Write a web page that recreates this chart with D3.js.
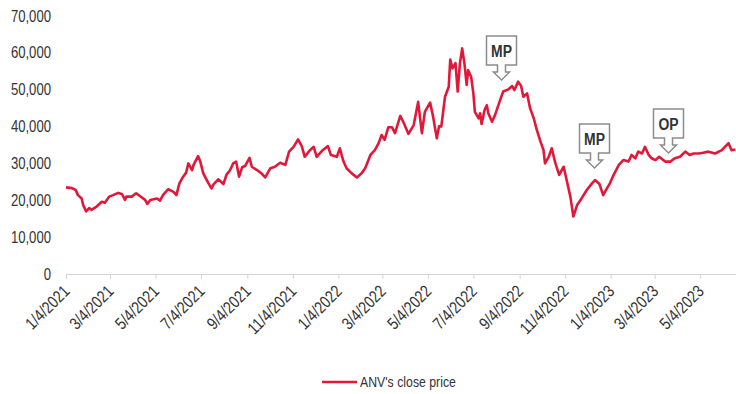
<!DOCTYPE html>
<html>
<head>
<meta charset="utf-8">
<script src="https://cdn.jsdelivr.net/npm/d3@7"></script>
<style>
    body { margin: 0; background: #fff; }
    svg text { font-family: "Liberation Sans", Arial, sans-serif; fill: #333; }
</style>
</head>
<body>
<svg width="736" height="394"></svg>
<script>

// close price
var dates = [
    "2021-01-04","2021-01-12","2021-01-17","2021-01-20","2021-01-25","2021-01-27","2021-01-31","2021-02-04","2021-02-07","2021-02-14",
    "2021-02-21","2021-02-25","2021-03-03","2021-03-08","2021-03-15","2021-03-20","2021-03-24","2021-03-26","2021-04-02","2021-04-08",
    "2021-04-13","2021-04-20","2021-04-23","2021-04-27","2021-05-06","2021-05-10","2021-05-14","2021-05-21","2021-05-28","2021-06-01",
    "2021-06-05","2021-06-10","2021-06-14","2021-06-17","2021-06-22","2021-06-24","2021-06-30","2021-07-03","2021-07-07","2021-07-14",
    "2021-07-18","2021-07-21","2021-07-27","2021-08-03","2021-08-07","2021-08-12","2021-08-16","2021-08-20","2021-08-24","2021-08-28",
    "2021-09-01","2021-09-07","2021-09-10","2021-09-17","2021-09-23","2021-09-28","2021-10-05","2021-10-11","2021-10-18","2021-10-25",
    "2021-10-30","2021-11-05","2021-11-11","2021-11-16","2021-11-20","2021-11-27","2021-12-02","2021-12-06","2021-12-14","2021-12-21",
    "2021-12-25","2022-01-02","2022-01-06","2022-01-11","2022-01-15","2022-01-22","2022-01-29","2022-02-04","2022-02-09","2022-02-16",
    "2022-02-22","2022-02-27","2022-03-03","2022-03-07","2022-03-12","2022-03-17","2022-03-21","2022-03-28","2022-04-01","2022-04-08",
    "2022-04-15","2022-04-21","2022-04-26","2022-04-30","2022-05-07","2022-05-11","2022-05-16","2022-05-19","2022-05-22","2022-05-27",
    "2022-06-01","2022-06-03","2022-06-06","2022-06-10","2022-06-13","2022-06-16","2022-06-19","2022-06-22","2022-06-25","2022-06-27",
    "2022-07-01","2022-07-04","2022-07-06","2022-07-11","2022-07-13","2022-07-15","2022-07-19","2022-07-22","2022-07-24","2022-07-29",
    "2022-08-02","2022-08-08","2022-08-13","2022-08-20","2022-08-25","2022-08-28","2022-09-02","2022-09-06","2022-09-09","2022-09-14",
    "2022-09-18","2022-09-23","2022-09-27","2022-10-02","2022-10-06","2022-10-08","2022-10-13","2022-10-17","2022-10-22","2022-10-27",
    "2022-11-02","2022-11-06","2022-11-11","2022-11-15","2022-11-20","2022-11-26","2022-12-03","2022-12-10","2022-12-14","2022-12-20",
    "2022-12-25","2022-12-30","2023-01-03","2023-01-08","2023-01-15","2023-01-21","2023-01-28","2023-02-01","2023-02-06","2023-02-10",
    "2023-02-15","2023-02-19","2023-02-24","2023-02-28","2023-03-05","2023-03-10","2023-03-18","2023-03-25","2023-03-31","2023-04-07",
    "2023-04-14","2023-04-20","2023-04-25","2023-05-02","2023-05-08","2023-05-15","2023-05-24","2023-06-02","2023-06-11","2023-06-15",
    "2023-06-20"
];

var closePrices = [
    23500, 23300, 22800, 21400, 20500, 18700, 17000, 17900, 17400, 18300,
    19600, 19350, 21000, 21400, 22000, 21700, 20100, 21000, 21000, 21900,
    21150, 20100, 19000, 20100, 20500, 19900, 21400, 23000, 22300, 21400,
    24600, 26400, 27500, 30000, 28200, 29600, 32000, 30500, 27300, 24600,
    23250, 24400, 25700, 24400, 26900, 28200, 30000, 30500, 26400, 28950,
    29300, 31500, 29100, 28200, 27300, 26200, 28700, 29100, 30200, 29600,
    33200, 34500, 36500, 34700, 31800, 33600, 34500, 31800, 33600, 34700,
    32300, 31800, 34100, 30500, 28700, 27300, 26200, 27300, 28700, 32300,
    33600, 35500, 37700, 36400, 39800, 39800, 38200, 42900, 41300, 38000,
    40400, 46700, 38200, 44000, 46500, 42700, 36800, 40100, 40000, 48100,
    50800, 58200, 55800, 57200, 49500, 57200, 61200, 57200, 51300, 55300,
    53500, 49000, 44000, 42200, 43600, 40700, 44500, 45800, 43600, 41300,
    43100, 46700, 49500, 50100, 51000, 49900, 52200, 51000, 48100, 49000,
    45000, 42200, 39100, 35900, 33600, 30000, 31800, 34100, 30000, 26900,
    29100, 25500, 21000, 15600, 18700, 20500, 22800, 24600, 25500, 24400,
    21400, 23250, 24600, 26900, 29600, 30900, 30500, 32300, 31400, 33200,
    32700, 34500, 32300, 31400, 30900, 31800, 30500, 30500, 31400, 31800,
    33200, 32300, 32700, 32700, 32900, 33200, 32700, 33600, 35500, 33600,
    33800
];

var tickDates = ["2021-01-04","2021-03-04","2021-05-04","2021-07-04","2021-09-04","2021-11-04",
    "2022-01-04","2022-03-04","2022-05-04","2022-07-04","2022-09-04","2022-11-04",
    "2023-01-04","2023-03-04","2023-05-04"];
var yTicks = [0, 10000, 20000, 30000, 40000, 50000, 60000, 70000];

// callouts (recommendation marks)
var noteLabels = ["MP", "MP", "OP"];
var noteDates = ["2022-08-10", "2022-12-13", "2023-03-22"];
var noteValues = [52600, 28800, 32800];

var seriesName = "ANV's close price";

window.onload = function() {
    makeChart();
}

function makeChart() {

    var svg = d3.select("svg");
    var parse = d3.timeParse("%Y-%m-%d");
    var fmt = d3.timeFormat("%-m/%-d/%Y");
    var red = "#e2183a";
    // squeeze text horizontally to look like a narrow font
    var narrow = "scale(0.82,1)";

    var data = dates.map(function(d, i) {
        return { date: parse(d), value: closePrices[i] };
    });

    var x = d3.scaleTime()
        .domain([parse("2021-01-04"), parse("2023-06-21")])
        .range([66, 736]);

    var y = d3.scaleLinear()
        .domain([0, 70000])
        .range([274, 16]);

    // x axis
    var xAxis = svg.append("g")
        .attr("class", "x axis")
        .attr("transform", "translate(0,274)")
        .call(d3.axisBottom(x)
            .tickValues(tickDates.map(parse))
            .tickFormat(fmt)
            .tickSizeInner(5)
            .tickSizeOuter(0));

    xAxis.select(".domain").attr("stroke", "#d4d4d4");
    xAxis.selectAll(".tick line").attr("stroke", "#d4d4d4");

    // rotate x axis text
    xAxis.selectAll("text")
        .attr("y", 0)
        .attr("x", 0)
        .attr("dy", "0.35em")
        .attr("transform", "translate(0,14) rotate(-45) " + narrow)
        .style("text-anchor", "end")
        .style("font-size", "17px")
        .attr("fill", "#333");

    // y axis, labels only
    var yAxis = svg.append("g")
        .attr("transform", "translate(51,0)")
        .call(d3.axisLeft(y)
            .tickValues(yTicks)
            .tickFormat(d3.format(","))
            .tickSize(0));

    yAxis.select(".domain").remove();
    yAxis.selectAll("text")
        .attr("x", 0)
        .attr("transform", narrow)
        .style("font-size", "16px")
        .attr("fill", "#333");

    // price line
    var line = d3.line()
        .x(function(d) { return x(d.date); })
        .y(function(d) { return y(d.value); });

    svg.append("path")
        .datum(data)
        .attr("fill", "none")
        .attr("stroke", red)
        .attr("stroke-width", 2.6)
        .attr("stroke-linejoin", "round")
        .attr("d", line);

    // callouts: box with an arrow pointing down at the line
    noteLabels.forEach(function(label, i) {
        var tx = Math.round(x(parse(noteDates[i]))) + 0.5;
        var ty = Math.round(y(noteValues[i]));
        var p = d3.path();
        p.moveTo(tx - 15, ty - 44);
        p.lineTo(tx + 15, ty - 44);
        p.lineTo(tx + 15, ty - 15);
        p.lineTo(tx + 4, ty - 15);
        p.lineTo(tx + 4, ty - 8);
        p.lineTo(tx + 8, ty - 8);
        p.lineTo(tx, ty);
        p.lineTo(tx - 8, ty - 8);
        p.lineTo(tx - 4, ty - 8);
        p.lineTo(tx - 4, ty - 15);
        p.lineTo(tx - 15, ty - 15);
        p.closePath();

        svg.append("path")
            .attr("d", p.toString())
            .attr("fill", "#fff")
            .attr("stroke", "#8c8c8c")
            .attr("stroke-width", 1.5);

        svg.append("text")
            .attr("transform", "translate(" + tx + "," + (ty - 29) + ") " + narrow)
            .attr("dy", "0.36em")
            .attr("text-anchor", "middle")
            .style("font-size", "17px")
            .style("font-weight", "bold")
            .attr("fill", "#111")
            .text(label);
    });

    // legend
    svg.append("line")
        .attr("x1", 322)
        .attr("x2", 357)
        .attr("y1", 382)
        .attr("y2", 382)
        .attr("stroke", red)
        .attr("stroke-width", 2.5);

    svg.append("text")
        .attr("transform", "translate(360,382) " + narrow)
        .attr("dy", "0.35em")
        .style("font-size", "15px")
        .text(seriesName);
}
</script>
</body>
</html>
